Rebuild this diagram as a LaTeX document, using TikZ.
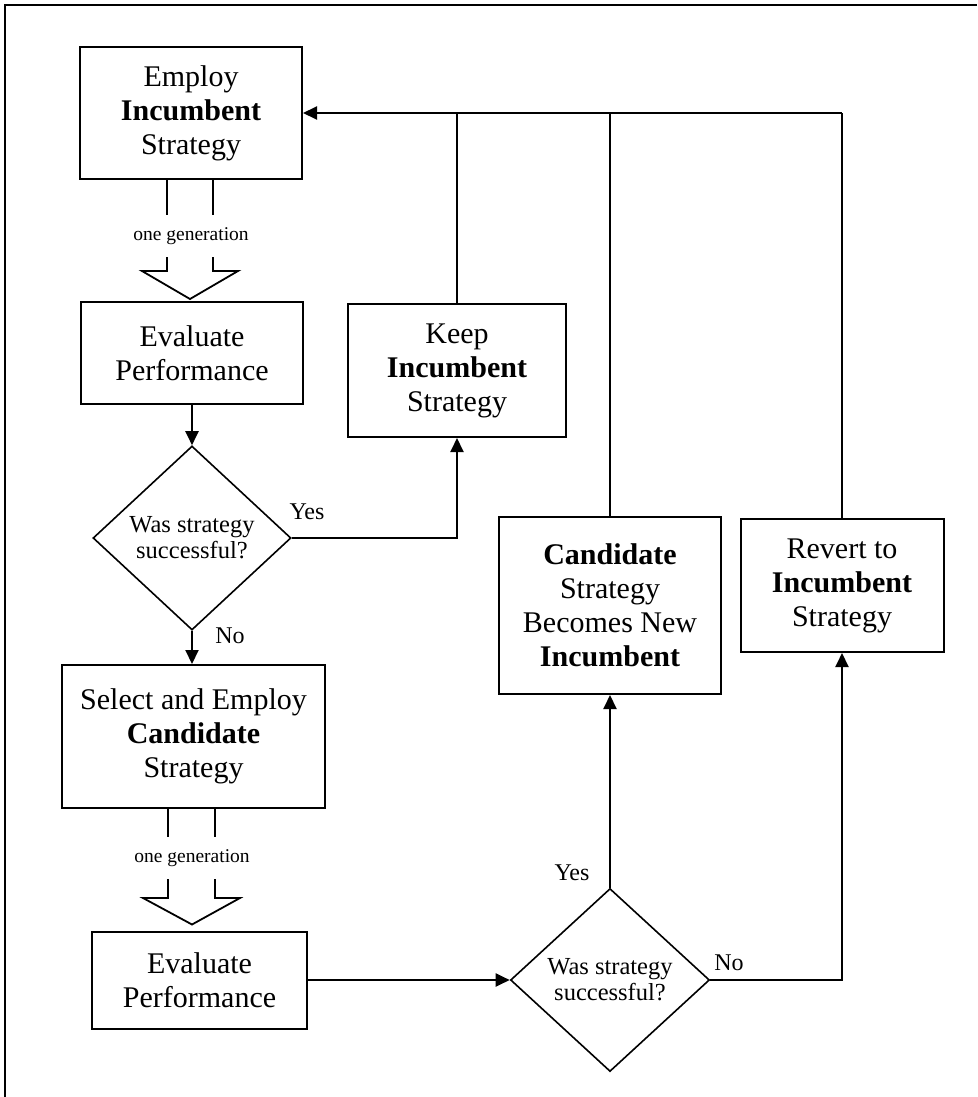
\documentclass[tikz,border=0pt]{standalone}
\usepackage{fontspec}
\setmainfont{Liberation Serif}
\usetikzlibrary{arrows.meta,shapes.geometric,calc}
\tikzset{
  boxnode/.style={draw, line width=2pt, align=center, inner sep=0pt,
    font=\fontsize{30}{34}\selectfont},
  decnode/.style={draw, diamond, line width=1.6pt, align=center, inner sep=0pt,
    font=\fontsize{24.5}{26}\selectfont},
  conn/.style={line width=2pt},
  arr/.style={line width=2pt, -{Triangle[length=14pt,width=13pt]}},
  lbl/.style={font=\fontsize{24}{26}\selectfont, inner sep=0pt},
  gen/.style={fill=white, font=\fontsize{19.5}{22}\selectfont, inner xsep=2pt, inner ysep=12pt},
  hollow/.style={line width=1.8pt, line join=miter}
}
\begin{document}
\begin{tikzpicture}[x=1pt,y=-1pt]
\useasboundingbox (0,0) rectangle (977,1097);
\draw[line width=1.4pt] (977,5) -- (5,5) -- (5,1097);

% boxes
\node[boxnode, minimum width=222pt, minimum height=132pt] (emp) at (191,113) {Employ\\\textbf{Incumbent}\\Strategy};
\node[boxnode, minimum width=222pt, minimum height=102pt] (ev1) at (192,353) {Evaluate\\Performance};
\node[decnode, minimum width=198pt, minimum height=184pt] (d1) at (192,538) {Was strategy\\successful?};
\node[boxnode, minimum width=218pt, minimum height=133pt] (keep) at (457,370.5) {Keep\\\textbf{Incumbent}\\Strategy};
\node[boxnode, minimum width=263pt, minimum height=143pt] (sel) at (193.5,736.5) {Select and Employ\\\textbf{Candidate}\\Strategy};
\node[boxnode, minimum width=215pt, minimum height=97pt] (ev2) at (199.5,980) {Evaluate\\Performance};
\node[decnode, minimum width=199pt, minimum height=183pt] (d2) at (610,980) {Was strategy\\successful?};
\node[boxnode, minimum width=222pt, minimum height=177pt] (cand) at (610,605.5) {\textbf{Candidate}\\Strategy\\Becomes New\\\textbf{Incumbent}};
\node[boxnode, minimum width=203pt, minimum height=133pt] (rev) at (842,585.5) {Revert to\\\textbf{Incumbent}\\Strategy};

% hollow arrows "one generation"
\draw[hollow] ($(emp.south)+(-24,0)$) -- ++(0,91) -- ++(-25,0) -- ($(ev1.north)+(-2,-2)$)
  -- ($(emp.south)+(47,91)$) -- ($(emp.south)+(22,91)$) -- ($(emp.south)+(22,0)$);
\node[gen] (g1) at ($(emp.south)+(0,56)$) {one generation};

\draw[hollow] ($(sel.south)+(-25.5,0)$) -- ++(0,89) -- ++(-25,0) -- ($(ev2.north)+(-7.5,-6)$)
  -- ($(sel.south)+(46.5,89)$) -- ($(sel.south)+(21.5,89)$) -- ($(sel.south)+(21.5,0)$);
\node[gen] (g2) at ($(sel.south)+(-1.5,49)$) {one generation};

% connectors
\draw[arr] (ev1.south) -- (d1.north);
\draw[arr] (d1.south) -- (d1.south |- sel.north);
\draw[arr] (d1.east) -| (keep.south);
\draw[arr] (ev2.east) -- (d2.west);
\draw[arr] (d2.north) -- (cand.south);
\draw[arr] (d2.east) -| (rev.south);

\coordinate (top) at (842,113);
\draw[conn] (rev.north) -- (top);
\draw[conn] (cand.north) -- (cand.north |- top);
\draw[conn] (keep.north) -- (keep.north |- top);
\draw[arr] (top) -- (emp.east);

% labels
\node[lbl] (y1) at (307,512) {Yes};
\node[lbl] (n1) at (230,636) {No};
\node[lbl] (y2) at (572,873) {Yes};
\node[lbl] (n2) at (729,963) {No};
\end{tikzpicture}
\end{document}
